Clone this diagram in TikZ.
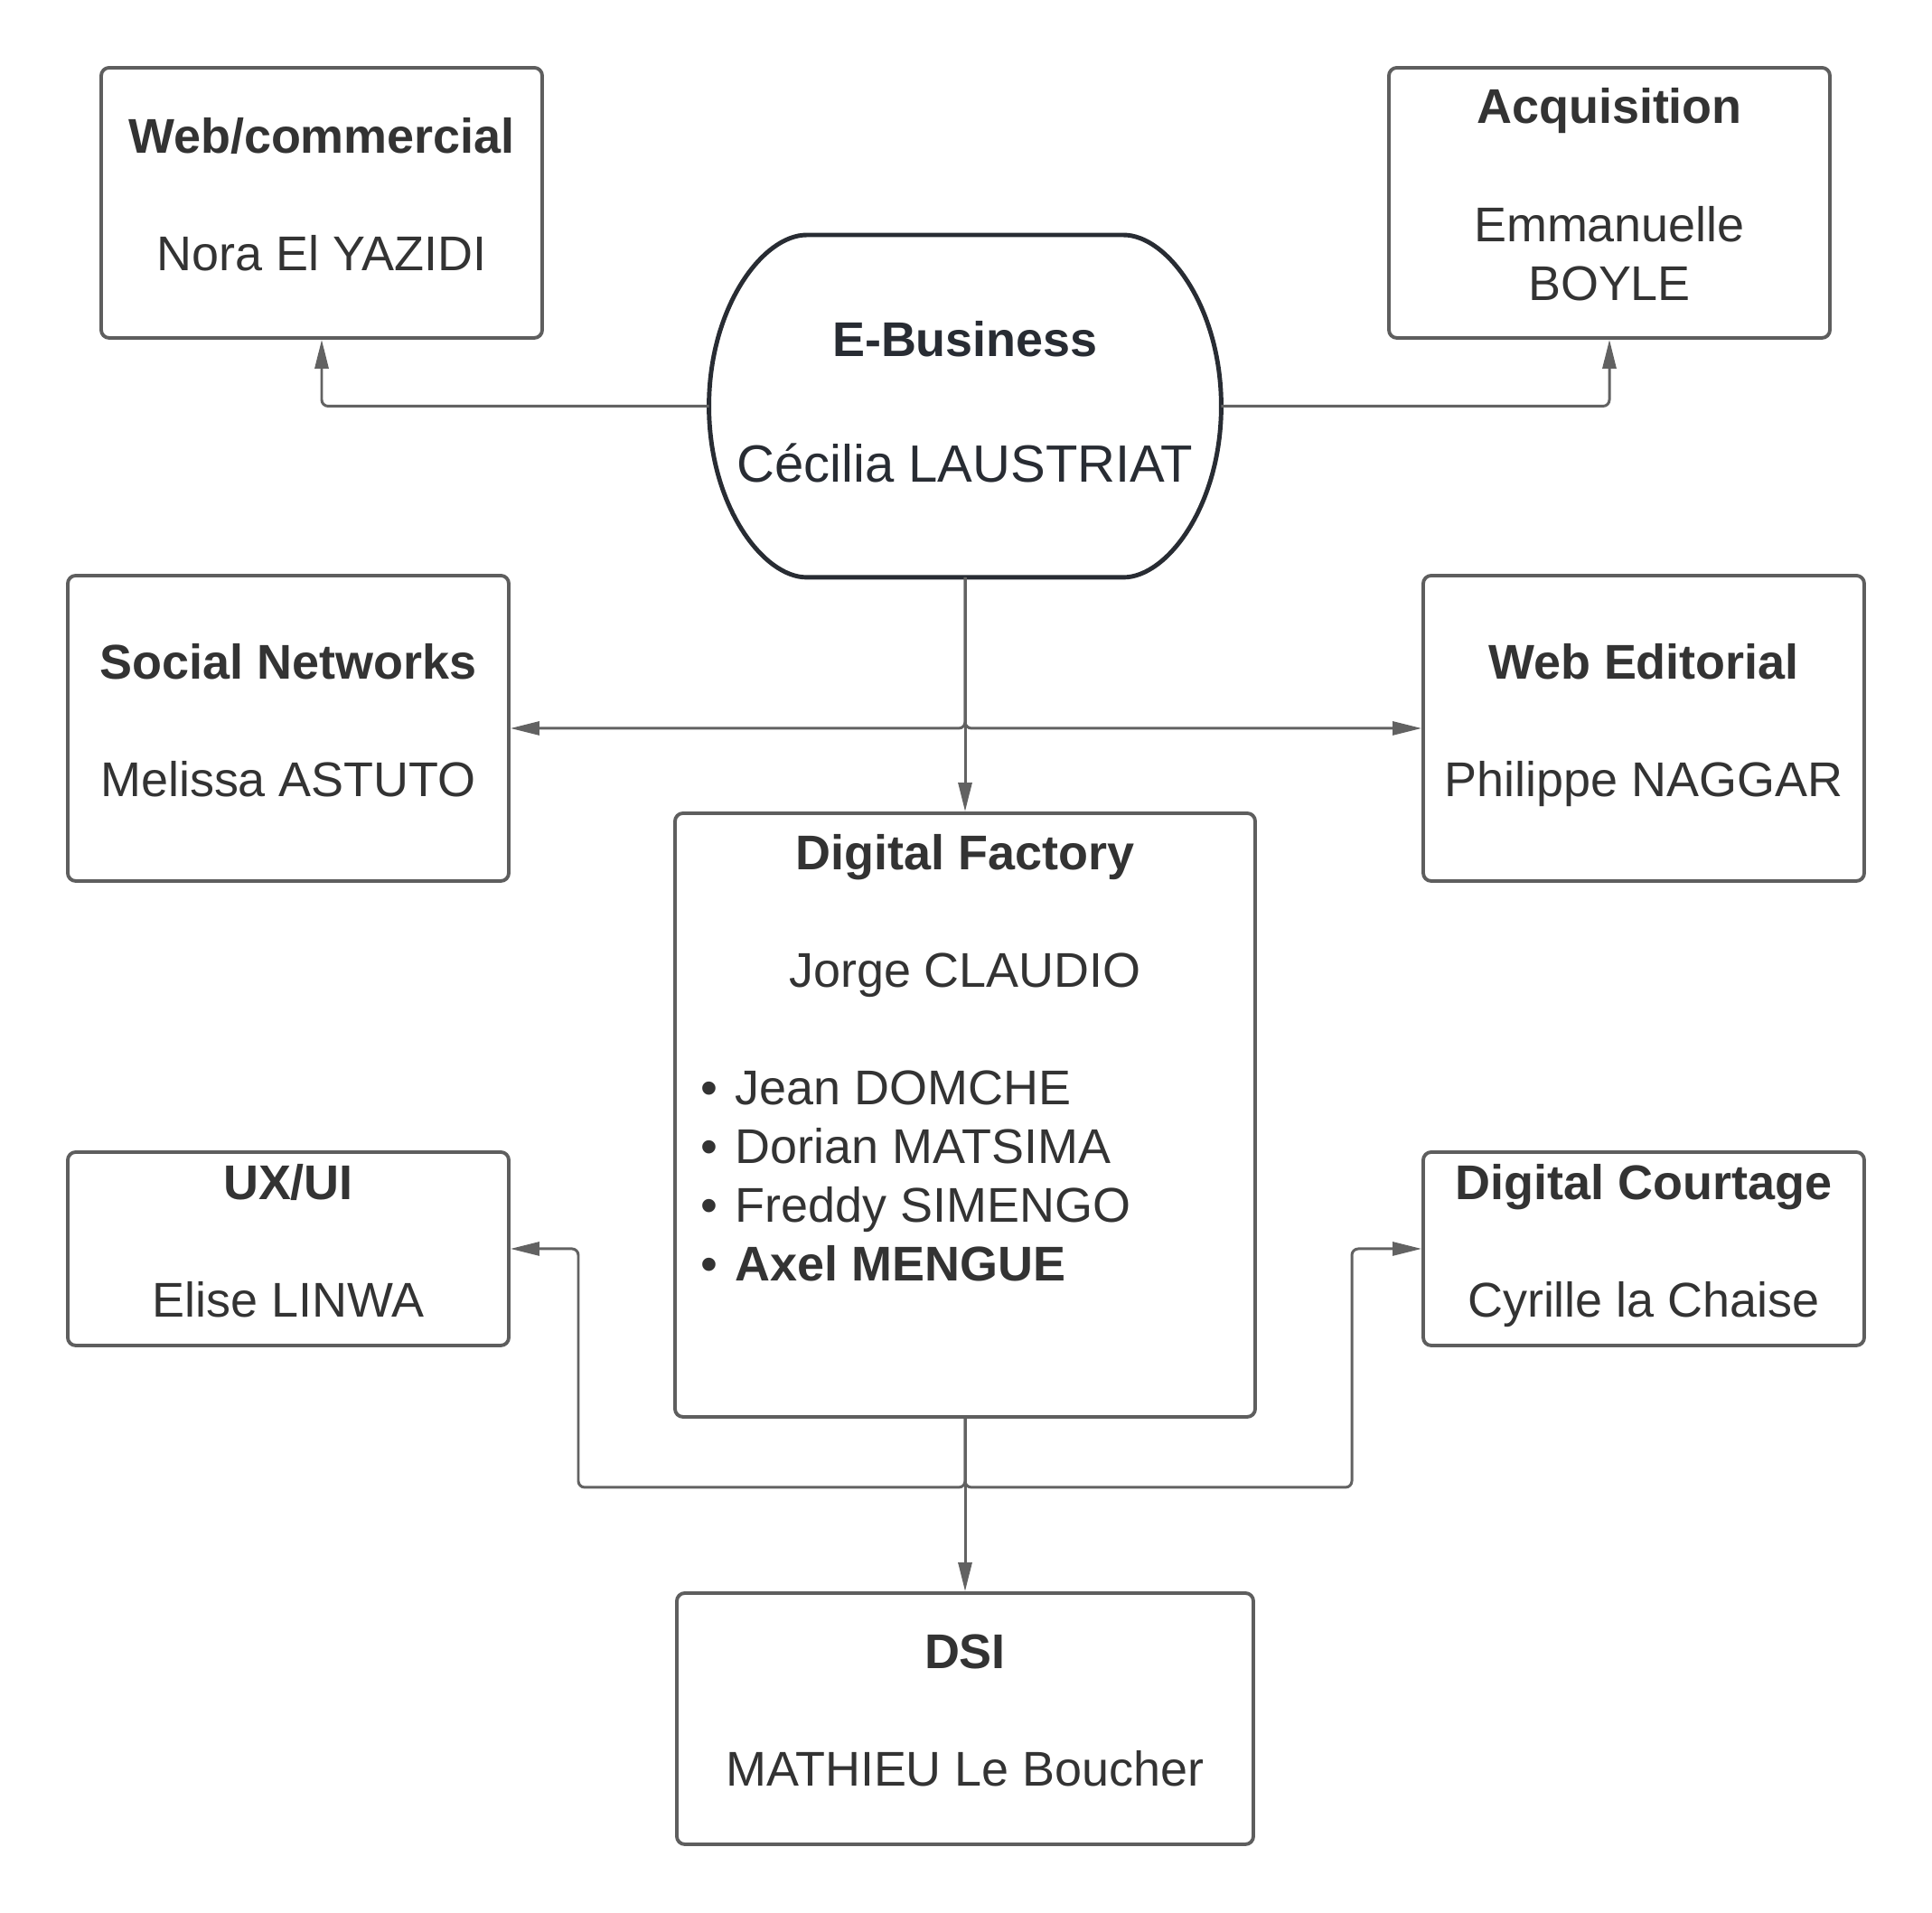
\documentclass[tikz,border=0pt]{standalone}
\usepackage{fontspec}
\setmainfont{Liberation Sans}
\usetikzlibrary{arrows.meta}

\begin{document}
\begin{tikzpicture}[
    box/.style={draw=box_gray, line width=1.1pt, rounded corners=2.5pt, fill=white,
        text=text_gray, font=\fontsize{15.35}{18.5}\selectfont, align=center, inner sep=0pt,
        execute at end node={\rule[-#1]{0pt}{0pt}}},
    box/.default=5.4pt,
    link/.style={draw=line_gray, line width=0.85pt, rounded corners=2pt,
        -{Triangle[length=0.32cm,width=0.15cm]}}
]
    \definecolor{box_gray}{HTML}{5E5E5E}
    \definecolor{line_gray}{HTML}{626262}
    \definecolor{text_gray}{HTML}{333333}
    \definecolor{ebiz_dark}{HTML}{282C33}
    % \draw[help lines] (0,0) grid (21,21);
    \useasboundingbox (0,0) rectangle (21.38,21.17);

    \node[box, minimum width=4.88cm, minimum height=2.99cm] (webcom) at (3.56,18.925)
        {\textbf{Web/commercial}\\[18.5pt]Nora El YAZIDI};
    \node[box, minimum width=4.88cm, minimum height=2.99cm] (acq) at (17.81,18.925)
        {\textbf{Acquisition}\\[18.5pt]Emmanuelle\\BOYLE};

    \node[box=2.7pt, draw=none, fill=none, text=ebiz_dark, minimum width=5.63cm, minimum height=3.75cm]
        (ebiz) at (10.68,16.675)
        {\textbf{E-Business}\\[21pt]{\fontsize{16.5}{20}\selectfont C\'ecilia LAUSTRIAT}};
    \draw[ebiz_dark, line width=1.4pt]
        ([xshift=1.08cm]ebiz.north west) -- ([xshift=-1.08cm]ebiz.north east)
        .. controls ([xshift=-0.6cm]ebiz.north east) and ([yshift=1.1cm]ebiz.east) .. (ebiz.east)
        .. controls ([yshift=-1.1cm]ebiz.east) and ([xshift=-0.6cm]ebiz.south east) .. ([xshift=-1.08cm]ebiz.south east)
        -- ([xshift=1.08cm]ebiz.south west)
        .. controls ([xshift=0.6cm]ebiz.south west) and ([yshift=-1.1cm]ebiz.west) .. (ebiz.west)
        .. controls ([yshift=1.1cm]ebiz.west) and ([xshift=0.6cm]ebiz.north west) .. cycle;

    \node[box, minimum width=4.88cm, minimum height=3.38cm] (social) at (3.19,13.11)
        {\textbf{Social Networks}\\[18.5pt]Melissa ASTUTO};
    \node[box, minimum width=4.88cm, minimum height=3.38cm] (webedit) at (18.19,13.11)
        {\textbf{Web Editorial}\\[18.5pt]Philippe NAGGAR};

    \node[box, minimum width=6.42cm, minimum height=6.68cm] (factory) at (10.68,8.83)
        {\parbox[c][6.68cm][t]{6.42cm}{\centering\vspace*{0.23cm}
            \textbf{Digital Factory}\\[18.5pt]
            Jorge CLAUDIO\\[18.5pt]
            \parbox[t]{5.86cm}{\raggedright
                •\hspace{0.05cm} Jean DOMCHE\\
                •\hspace{0.05cm} Dorian MATSIMA\\
                •\hspace{0.05cm} Freddy SIMENGO\\
                •\hspace{0.05cm} \textbf{Axel MENGUE}}}};

    \node[box, minimum width=4.88cm, minimum height=2.14cm] (uxui) at (3.19,7.35)
        {\textbf{UX/UI}\\[18.5pt]Elise LINWA};
    \node[box, minimum width=4.88cm, minimum height=2.14cm] (courtage) at (18.19,7.35)
        {\textbf{Digital Courtage}\\[18.5pt]Cyrille la Chaise};

    \node[box, minimum width=6.38cm, minimum height=2.78cm] (dsi) at (10.68,2.15)
        {\textbf{DSI}\\[18.5pt]MATHIEU Le Boucher};

    \coordinate (fork_left) at (6.40,4.71);
    \coordinate (fork_right) at (14.96,4.71);

    \draw[link] (ebiz.west) -| (webcom.south);
    \draw[link] (ebiz.east) -| (acq.south);
    \draw[link] (ebiz.south) -- (factory.north);
    \draw[link] (ebiz.south) |- (social.east);
    \draw[link] (ebiz.south) |- (webedit.west);
    \draw[link] (factory.south) -- (dsi.north);
    \draw[link] (factory.south) |- (fork_left) |- (uxui.east);
    \draw[link] (factory.south) |- (fork_right) |- (courtage.west);
\end{tikzpicture}
\end{document}
